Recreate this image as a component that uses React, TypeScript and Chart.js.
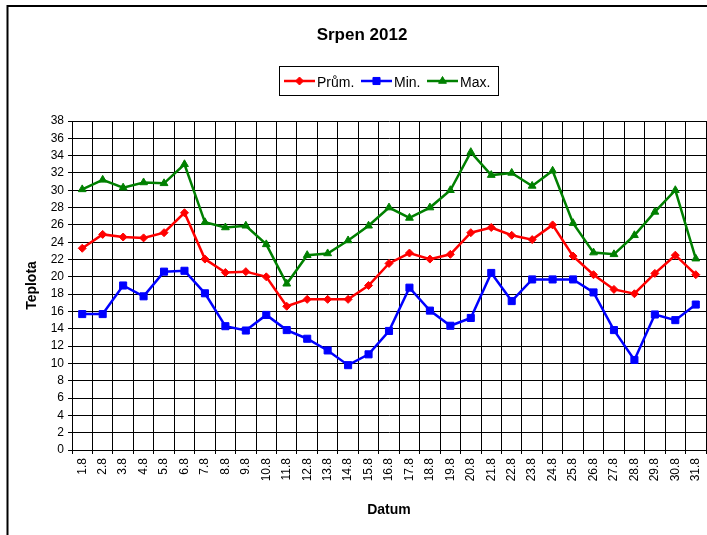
import React, { useEffect, useRef } from "react";
import { Chart, registerables } from "chart.js";

Chart.register(...registerables);

const titleText = "Srpen 2012";
const xTitle = "Datum";
const yTitle = "Teplota";

const days = [
  "1.8", "2.8", "3.8", "4.8", "5.8", "6.8", "7.8", "8.8", "9.8", "10.8",
  "11.8", "12.8", "13.8", "14.8", "15.8", "16.8", "17.8", "18.8", "19.8", "20.8",
  "21.8", "22.8", "23.8", "24.8", "25.8", "26.8", "27.8", "28.8", "29.8", "30.8", "31.8",
];

const prumValues = [
  23.3, 24.9, 24.6, 24.5, 25.1, 27.4, 22.05, 20.5, 20.6, 20.0,
  16.6, 17.4, 17.4, 17.4, 19.0, 21.55, 22.75, 22.05, 22.6, 25.1,
  25.7, 24.8, 24.3, 26.0, 22.4, 20.25, 18.55, 18.05, 20.4, 22.5, 20.25,
];

const minValues = [
  15.7, 15.7, 19.0, 17.75, 20.6, 20.7, 18.1, 14.3, 13.8, 15.6,
  13.85, 12.85, 11.5, 9.8, 11.05, 13.75, 18.75, 16.1, 14.35, 15.25,
  20.45, 17.2, 19.7, 19.7, 19.7, 18.2, 13.85, 10.4, 15.65, 15.0, 16.8,
];

const maxValues = [
  30.1, 31.2, 30.3, 30.9, 30.8, 33.0, 26.3, 25.7, 25.9, 23.75,
  19.2, 22.5, 22.7, 24.2, 25.9, 28.0, 26.8, 28.0, 30.0, 34.4,
  31.75, 32.0, 30.5, 32.25, 26.2, 22.8, 22.6, 24.8, 27.5, 30.0, 22.1,
];

const seriesNames = ["Prům.", "Min.", "Max."];
const seriesColors = ["#FF0000", "#0000FF", "#008000"];
const seriesMarkers = ["rectRot", "rect", "triangle"];
const markerSizes = [4, 5, 4.5];

const yTicks = { min: 0, max: 38, step: 2 };

const FONT = "'Liberation Sans', Arial, sans-serif";

function drawMarker(ctx: CanvasRenderingContext2D, style: string, x: number, y: number, r: number, color: string) {
  ctx.save();
  ctx.fillStyle = color;
  ctx.strokeStyle = color;
  ctx.lineWidth = 1;
  ctx.beginPath();
  if (style === "rectRot") {
    ctx.moveTo(x, y - r);
    ctx.lineTo(x + r, y);
    ctx.lineTo(x, y + r);
    ctx.lineTo(x - r, y);
    ctx.closePath();
  } else if (style === "rect") {
    const s = Math.SQRT1_2 * r;
    ctx.rect(x - s, y - s, 2 * s, 2 * s);
  } else {
    ctx.moveTo(x, y - r);
    ctx.lineTo(x + r * Math.sin((2 * Math.PI) / 3), y - r * Math.cos((2 * Math.PI) / 3));
    ctx.lineTo(x + r * Math.sin((4 * Math.PI) / 3), y - r * Math.cos((4 * Math.PI) / 3));
    ctx.closePath();
  }
  ctx.fill();
  ctx.stroke();
  ctx.restore();
}

const decorPlugin = {
  id: "decor",
  beforeDraw(chart: any) {
    const ctx = chart.ctx as CanvasRenderingContext2D;
    ctx.save();
    ctx.fillStyle = "#ffffff";
    ctx.fillRect(0, 0, chart.width, chart.height);
    ctx.restore();
  },
  afterDraw(chart: any) {
    const ctx = chart.ctx as CanvasRenderingContext2D;
    ctx.save();
    ctx.strokeStyle = "#000";
    ctx.lineWidth = 2;
    ctx.strokeRect(7.5, 6, 730, 600);
    ctx.fillStyle = "#000";
    ctx.font = `bold 17px ${FONT}`;
    ctx.textAlign = "center";
    ctx.textBaseline = "alphabetic";
    ctx.fillText(titleText, 362, 40);
    ctx.lineWidth = 1;
    ctx.strokeStyle = "#000";
    ctx.strokeRect(279.5, 66.5, 219, 29);
    const lineStarts = [284, 361, 427];
    const ly = 81;
    ctx.font = `14px ${FONT}`;
    ctx.textAlign = "left";
    chart.data.datasets.forEach((ds: any, i: number) => {
      const x0 = lineStarts[i];
      const x1 = x0 + 31;
      ctx.strokeStyle = ds.borderColor;
      ctx.lineWidth = 2.5;
      ctx.beginPath();
      ctx.moveTo(x0, ly);
      ctx.lineTo(x1, ly);
      ctx.stroke();
      drawMarker(ctx, ds.pointStyle, (x0 + x1) / 2, ly, ds.pointRadius, ds.borderColor);
      ctx.fillStyle = "#000";
      ctx.fillText(ds.label, x1 + 2, ly + 5.5);
    });
    ctx.restore();
  },
};

export default function App() {
  const ref = useRef<HTMLCanvasElement | null>(null);

  useEffect(() => {
    if (!ref.current) return;
    const valuesList = [prumValues, minValues, maxValues];
    const chart = new Chart(ref.current, {
      type: "line",
      data: {
        labels: days,
        datasets: seriesNames.map((name, i) => ({
          label: name,
          data: valuesList[i],
          borderColor: seriesColors[i],
          backgroundColor: seriesColors[i],
          pointBackgroundColor: seriesColors[i],
          pointBorderColor: seriesColors[i],
          pointStyle: seriesMarkers[i] as any,
          pointRadius: markerSizes[i],
          pointBorderWidth: 1,
          borderWidth: 2.5,
          tension: 0,
          fill: false,
          clip: 8,
        })),
      },
      options: {
        responsive: false,
        animation: false,
        devicePixelRatio: 1,
        layout: { autoPadding: false, padding: { top: 121, left: 0, right: 1, bottom: 0 } },
        plugins: {
          legend: { display: false },
          title: { display: false },
          tooltip: { enabled: false },
        },
        scales: {
          x: {
            type: "category",
            offset: true,
            grid: { offset: true, color: "#000", lineWidth: 1, tickLength: 4, drawTicks: true },
            border: { color: "#000", width: 1 },
            ticks: {
              autoSkip: false,
              minRotation: 90,
              maxRotation: 90,
              padding: 4,
              color: "#000",
              font: { family: FONT, size: 12 },
            },
            title: {
              display: true,
              text: xTitle,
              color: "#000",
              font: { family: FONT, size: 14, weight: "bold" },
              padding: { top: 0, bottom: 16 },
            },
            afterFit: (s: any) => {
              s.height = 85;
              s.paddingLeft = 0;
              s.paddingRight = 0;
            },
          },
          y: {
            min: yTicks.min,
            max: yTicks.max,
            grid: { color: "#000", lineWidth: 1, tickLength: 4 },
            border: { color: "#000", width: 1 },
            ticks: {
              stepSize: yTicks.step,
              autoSkip: false,
              padding: 4,
              color: "#000",
              font: { family: FONT, size: 12 },
            },
            title: {
              display: true,
              text: yTitle,
              color: "#000",
              font: { family: FONT, size: 14, weight: "bold" },
              padding: { top: 24, bottom: 0 },
            },
            afterFit: (s: any) => {
              s.width = 72;
              s.paddingTop = 0;
              s.paddingBottom = 0;
            },
          },
        },
      },
      plugins: [decorPlugin],
    });
    return () => chart.destroy();
  }, []);

  return (
    <canvas
      ref={ref}
      width={707}
      height={535}
      style={{ position: "absolute", left: 0, top: 0, width: 707, height: 535 }}
    />
  );
}
